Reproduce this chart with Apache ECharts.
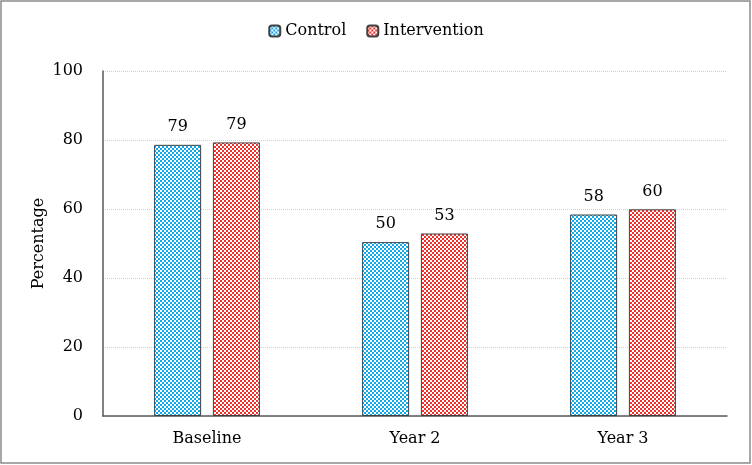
<!DOCTYPE html>
<html>
<head>
<meta charset="utf-8">
<script src="https://cdn.jsdelivr.net/npm/echarts@6/dist/echarts.min.js"></script>
<style>
  html, body { margin: 0; padding: 0; background: #fff; }
  #main { width: 752px; height: 465px; }
</style>
</head>
<body>
<div id="main"></div>
<script>
var categories = ['Baseline', 'Year 2', 'Year 3'];
var controlValues = [78.6, 50.4, 58.4];
var interventionValues = [79.3, 52.9, 59.9];
var seriesNames = ['Control', 'Intervention'];

// checkerboard fill like the original
function checker(color) {
    var c = document.createElement('canvas');
    c.width = 4;
    c.height = 4;
    var ctx = c.getContext('2d');
    ctx.fillStyle = '#ffffff';
    ctx.fillRect(0, 0, 4, 4);
    ctx.fillStyle = color;
    ctx.fillRect(0, 0, 2, 2);
    ctx.fillRect(2, 2, 2, 2);
    return { image: c, repeat: 'repeat' };
}

var font = 'DejaVu Serif';
var fs = 16;
var chart = echarts.init(document.getElementById('main'));

var labelOpt = {
    show: true,
    position: 'top',
    distance: 10,
    color: '#000',
    fontFamily: font,
    fontSize: fs,
    formatter: function (p) { return Math.round(p.value); }
};

chart.setOption({
    animation: false,
    textStyle: { fontFamily: font },
    graphic: [{
        type: 'rect',
        shape: { x: 1, y: 1, width: 749, height: 462 },
        style: { fill: 'none', stroke: '#8c8c8c', lineWidth: 1.5 }
    }],
    legend: {
        data: seriesNames,
        top: 18,
        left: 'center',
        itemWidth: 11,
        itemHeight: 11,
        itemGap: 20,
        textStyle: { fontFamily: font, fontSize: fs, color: '#000' }
    },
    grid: { left: 103, right: 25, top: 71, bottom: 49 },
    xAxis: {
        type: 'category',
        data: categories,
        axisLine: { lineStyle: { color: '#595959', width: 1.5 } },
        axisTick: { show: false },
        axisLabel: { color: '#000', fontFamily: font, fontSize: fs, margin: 15 }
    },
    yAxis: {
        type: 'value',
        min: 0,
        max: 100,
        interval: 20,
        name: 'Percentage',
        nameLocation: 'middle',
        nameGap: 56,
        nameMoveOverlap: false,
        nameTextStyle: { color: '#000', fontFamily: font, fontSize: fs },
        axisLine: { show: true, lineStyle: { color: '#595959', width: 1.5 } },
        axisTick: { show: false },
        axisLabel: { color: '#000', fontFamily: font, fontSize: fs, margin: 20 },
        splitLine: { lineStyle: { color: '#d0d0d0', type: 'dotted' } }
    },
    series: [{
        name: seriesNames[0],
        type: 'bar',
        data: controlValues,
        barWidth: 47,
        barGap: '25%',
        itemStyle: { color: checker('#0fa8ec'), borderColor: '#404040', borderWidth: 1 },
        label: labelOpt
    }, {
        name: seriesNames[1],
        type: 'bar',
        data: interventionValues,
        barWidth: 47,
        itemStyle: { color: checker('#f0302a'), borderColor: '#404040', borderWidth: 1 },
        label: labelOpt
    }]
});
</script>
</body>
</html>
